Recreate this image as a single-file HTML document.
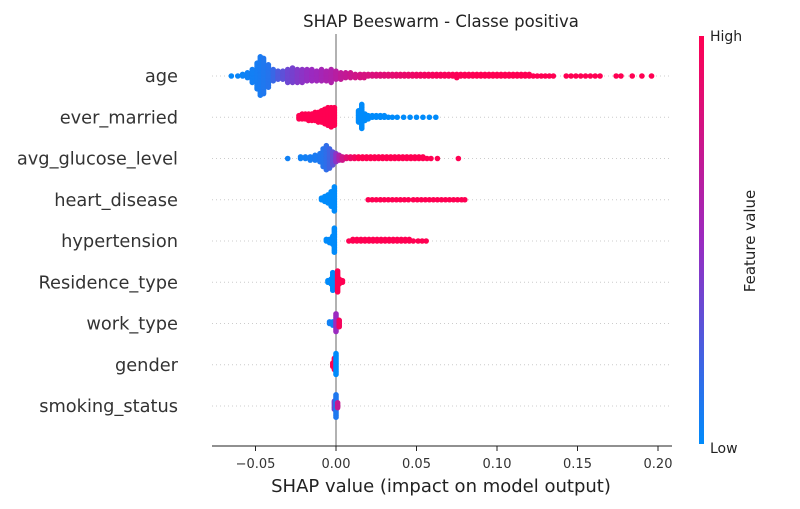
<!DOCTYPE html>
<html><head><meta charset="utf-8"><style>
body{margin:0;background:#fff;}
svg{display:block;font-family:"DejaVu Sans","Liberation Sans",sans-serif;}
</style></head><body>
<svg id="chart" width="800" height="509" viewBox="0 0 800 509">
<defs><linearGradient id="cb" x1="0" y1="1" x2="0" y2="0">
<stop offset="0" stop-color="#008bfb"/><stop offset="0.5" stop-color="#9b2ac0"/><stop offset="1" stop-color="#ff0052"/></linearGradient></defs>
<text x="441" y="27" text-anchor="middle" font-size="16.5" fill="#222">SHAP Beeswarm - Classe positiva</text>
<g id="grid"></g><g id="labels"></g>
<line x1="336" y1="34" x2="336" y2="446" stroke="#999" stroke-width="1.5"/>
<g id="dots"></g>
<line x1="212" y1="446" x2="672" y2="446" stroke="#222" stroke-width="1"/>
<g id="xticks"></g>
<text x="441" y="492" text-anchor="middle" font-size="18" fill="#222">SHAP value (impact on model output)</text>
<rect x="699" y="36" width="5" height="408" fill="url(#cb)"/>
<text x="710" y="41" font-size="14" fill="#222">High</text>
<text x="710" y="453" font-size="14" fill="#222">Low</text>
<text transform="translate(755,241) rotate(-90)" text-anchor="middle" font-size="15" fill="#222">Feature value</text>
</svg>
<script>
const features=["age","ever_married","avg_glucose_level","heart_disease","hypertension","Residence_type","work_type","gender","smoking_status"];
const xTicks=[-0.05,0,0.05,0.1,0.15,0.2];
const xTickLabels=["\u22120.05","0.00","0.05","0.10","0.15","0.20"];
const ageShap=[-0.065,-0.061,-0.058,-0.055,-0.052,-0.049,-0.047,-0.045,-0.042,-0.039,-0.036,-0.033,-0.030,-0.027,-0.024,-0.021,-0.018,-0.015,-0.012,-0.009,-0.006,-0.003,0.000,0.003,0.006,0.009,0.012,
0.015,0.0175,0.020,0.0225,0.025,0.0275,0.030,0.0325,0.035,0.0375,0.040,0.0425,0.045,0.0475,0.050,0.0525,0.055,0.0575,0.060,0.0625,0.065,0.0675,0.070,0.0725,0.075,0.0775,0.080,0.0825,0.085,0.0875,0.090,0.0925,0.095,0.0975,0.100,0.1025,0.105,0.1075,0.110,0.1125,0.115,0.1175,0.120,0.1225,0.125,0.1275,0.130,0.1325,0.135,
0.143,0.146,0.149,0.152,0.155,0.158,0.161,0.164,0.174,0.177,0.184,0.190,0.196];
const ageCount=[1,1,2,4,9,17,25,23,15,8,6,6,9,10,9,9,8,8,7,8,7,9,6,5,4,4,3,
3,3,2,2,2,2,2,2,2,2,2,2,2,2,2,2,2,2,2,2,2,2,2,2,3,2,2,2,2,2,2,2,2,2,2,2,2,2,2,2,2,2,2,1,1,1,1,1,1,
1,1,1,1,1,1,1,1,1,1,1,1,1];
const ageFeat=[0.02,0.03,0.04,0.05,0.06,0.07,0.08,0.1,0.12,0.18,0.25,0.3,0.35,0.38,0.42,0.45,0.48,0.5,0.52,0.55,0.58,0.6,0.64,0.68,0.7,0.73,0.76,
0.78,0.79,0.8,0.81,0.82,0.83,0.84,0.85,0.86,0.87,0.88,0.89,0.9,0.91,0.92,0.93,0.94,0.95,0.95,0.96,0.96,0.97,0.97,0.98,0.98,0.98,0.99,0.99,0.99,1,1,1,1,1,1,1,1,1,1,1,1,1,1,1,1,1,1,1,1,
1,1,1,1,1,1,1,1,1,1,1,1,1];
const marShap=[-0.023,-0.021,-0.019,-0.017,-0.015,-0.013,-0.011,-0.009,-0.007,-0.005,-0.003,-0.001,0.014,0.016,0.018,0.020,0.0225,0.025,0.0275,0.030,0.0325,0.035,0.038,0.042,0.046,0.050,0.054,0.058,0.062];
const marCount=[3,4,4,5,5,6,7,8,10,12,13,12,8,16,5,3,2,2,2,2,1,1,1,1,1,1,1,1,1];
const marFeat=[1,1,1,1,1,1,1,1,1,1,1,1,0,0,0,0,0,0,0,0,0,0,0,0,0,0,0,0,0];
const gluShap=[-0.030,-0.022,-0.019,-0.016,-0.013,-0.010,-0.008,-0.006,-0.004,-0.002,0.000,0.002,0.004,0.0065,0.009,0.0115,0.014,0.0165,0.019,0.0215,0.024,0.0265,0.029,0.0315,0.034,0.0365,0.039,0.0415,0.044,0.0465,0.049,0.0515,0.054,0.0565,0.059,0.063,0.076];
const gluCount=[1,2,2,3,4,6,12,16,13,9,6,4,3,2,2,2,2,2,2,2,2,2,2,2,2,2,2,2,2,2,2,2,2,1,1,1,1];
const gluFeat=[0.05,0.05,0.06,0.07,0.08,0.1,0.12,0.15,0.2,0.3,0.45,0.6,0.75,0.85,0.9,0.95,1,1,1,1,1,1,1,1,1,1,1,1,1,1,1,1,1,1,1,1,1];
const hrtShap=[-0.009,-0.007,-0.005,-0.003,-0.001,0.020,0.0225,0.025,0.0275,0.030,0.0325,0.035,0.0375,0.040,0.0425,0.045,0.048,0.0505,0.053,0.0555,0.058,0.0605,0.063,0.0655,0.068,0.0705,0.073,0.0755,0.078,0.080];
const hrtCount=[2,4,6,10,16,1,1,1,1,1,1,1,1,1,1,1,1,1,1,1,1,1,1,1,1,1,1,1,1,1];
const hrtFeat=[0,0,0,0,0,1,1,1,1,1,1,1,1,1,1,1,1,1,1,1,1,1,1,1,1,1,1,1,1,1];
const hypShap=[-0.006,-0.004,-0.002,-0.001,0.008,0.0105,0.013,0.0155,0.018,0.0205,0.023,0.0255,0.028,0.0305,0.033,0.0355,0.038,0.0405,0.043,0.0455,0.048,0.051,0.0535,0.056];
const hypCount=[2,3,6,16,1,2,2,2,2,2,2,2,2,2,2,2,2,2,2,2,1,1,1,1];
const hypFeat=[0,0,0,0,1,1,1,1,1,1,1,1,1,1,1,1,1,1,1,1,1,1,1,1];
const resShap=[-0.005,-0.003,-0.002,0.001,0.002,0.004];
const resCount=[2,4,12,14,4,2];
const resFeat=[0,0,0,1,1,1];
const wrkShap=[-0.004,-0.002,0.000,0.002];
const wrkCount=[2,3,12,5];
const wrkFeat=[0.05,0.05,0.5,0.95];
const genShap=[-0.002,-0.001,0.000];
const genCount=[3,8,14];
const genFeat=[1,1,0];
const smkShap=[-0.001,0.000,0.001];
const smkCount=[6,15,4];
const smkFeat=[0.35,0.1,0.7];
const series=[[ageShap,ageCount,ageFeat],[marShap,marCount,marFeat],[gluShap,gluCount,gluFeat],[hrtShap,hrtCount,hrtFeat],[hypShap,hypCount,hypFeat],[resShap,resCount,resFeat],[wrkShap,wrkCount,wrkFeat],[genShap,genCount,genFeat],[smkShap,smkCount,smkFeat]];
const NS="http://www.w3.org/2000/svg";
const xScale=v=>336+v*1610;
const yRow=i=>76+i*41.25;
function col(t){const a=[0,139,251],m=[155,42,192],b=[255,0,82];let c;
 if(t<0.5){const u=t/0.5;c=a.map((x,i)=>x+(m[i]-x)*u);}else{const u=(t-0.5)/0.5;c=m.map((x,i)=>x+(b[i]-x)*u);}
 return `rgb(${c.map(Math.round).join(",")})`;}
function mk(tag,attrs,parent){const e=document.createElementNS(NS,tag);for(const k in attrs)e.setAttribute(k,attrs[k]);parent.appendChild(e);return e;}
const grid=document.getElementById("grid"),labels=document.getElementById("labels"),dots=document.getElementById("dots"),xt=document.getElementById("xticks");
features.forEach((f,i)=>{const y=yRow(i);
 const g=mk("line",{x1:212,x2:672,y1:y,y2:y,stroke:"#ccc","stroke-width":1,"stroke-dasharray":"1,3"},grid);
 
 
 const t=mk("text",{x:178,y:y+6,"text-anchor":"end","font-size":17.8,fill:"#333"},labels);t.textContent=f;
 
 
});
series.forEach((s,i)=>{const [sh,cn,fv]=s;const y0=yRow(i);
 const g=mk("g",{},dots);
 
 
 sh.forEach((v,j)=>{for(let k=0;k<cn[j];k++){const off=(k%2?-1:1)*Math.ceil(k/2)*1.6;
  const c=mk("circle",{cx:xScale(v),cy:y0+off,r:2.8,fill:col(fv[j])},g);
  
  }});
});
xTicks.forEach((v,i)=>{const x=xScale(v);
 const l=mk("line",{x1:x,x2:x,y1:446,y2:451,stroke:"#222"},xt);
 
 
 const t=mk("text",{x:x,y:468,"text-anchor":"middle","font-size":13,fill:"#333"},xt);t.textContent=xTickLabels[i];
 
 
});
</script>
</body></html>
